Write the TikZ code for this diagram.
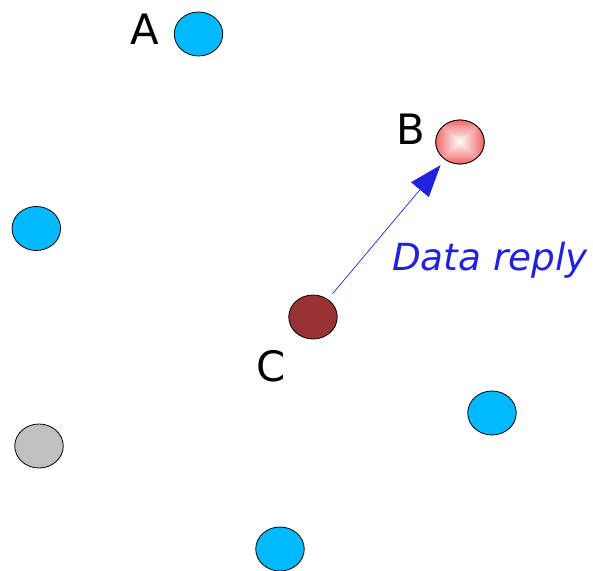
\documentclass[tikz,border=0pt]{standalone}
\usepackage{fontspec}
\setmainfont{DejaVu Sans}
\usetikzlibrary{shapes.geometric,arrows.meta}
\definecolor{nodeblue}{RGB}{0,185,255}
\definecolor{nodered}{RGB}{153,51,51}
\definecolor{nodegray}{RGB}{192,192,192}
\definecolor{nodepink}{RGB}{240,100,100}
\definecolor{arrowblue}{RGB}{34,34,221}
\tikzset{
  nodeell/.style={ellipse, draw=black, line width=0.8bp, minimum width=48.5bp, minimum height=44bp, inner sep=0pt},
  bluenode/.style={nodeell, fill=nodeblue},
  lbl/.style={inner sep=0pt, font=\fontsize{42}{50}\selectfont},
  msg/.style={inner sep=0pt, text=arrowblue, font=\fontsize{37.5}{45}\selectfont\itshape},
  msgarrow/.style={draw=arrowblue, line width=0.7bp, -{Triangle[length=32bp,width=23bp]}, shorten >=7bp, shorten <=7bp}
}
\begin{document}
\begin{tikzpicture}[x=1bp,y=-1bp]
\useasboundingbox (0,0) rectangle (593,571);
\node[bluenode] (A) at (198.5,34) {};
\node[lbl] (Alabel) at (145,29.5) {A};
\node[nodeell] (B) at (460,142) {};
\begin{scope}
  \clip (460,142) ellipse [x radius=24.25bp, y radius=22bp];
  \foreach \i in {0,...,24} {
    \pgfmathsetmacro{\mix}{\i*4}
    \fill[white!\mix!nodepink] ({460-25+\i},{142-23+\i*0.92}) rectangle ({460+25-\i},{142+23-\i*0.92});
  }
\end{scope}
\node[nodeell, fill=none] at (460,142) {};
\node[lbl] (Blabel) at (410.5,129) {B};
\node[bluenode] (L) at (36.3,228.5) {};
\node[nodeell, fill=nodered] (C) at (313,317) {};
\node[lbl] (Clabel) at (271,366.5) {C};
\node[bluenode] (R) at (492,413) {};
\node[nodeell, fill=nodegray] (G) at (39,446) {};
\node[bluenode] (D) at (280,549) {};
\draw[msgarrow] (C) -- (B);
\node[msg, anchor=base west] (reply) at (392,270) {Data reply};
\end{tikzpicture}
\end{document}
